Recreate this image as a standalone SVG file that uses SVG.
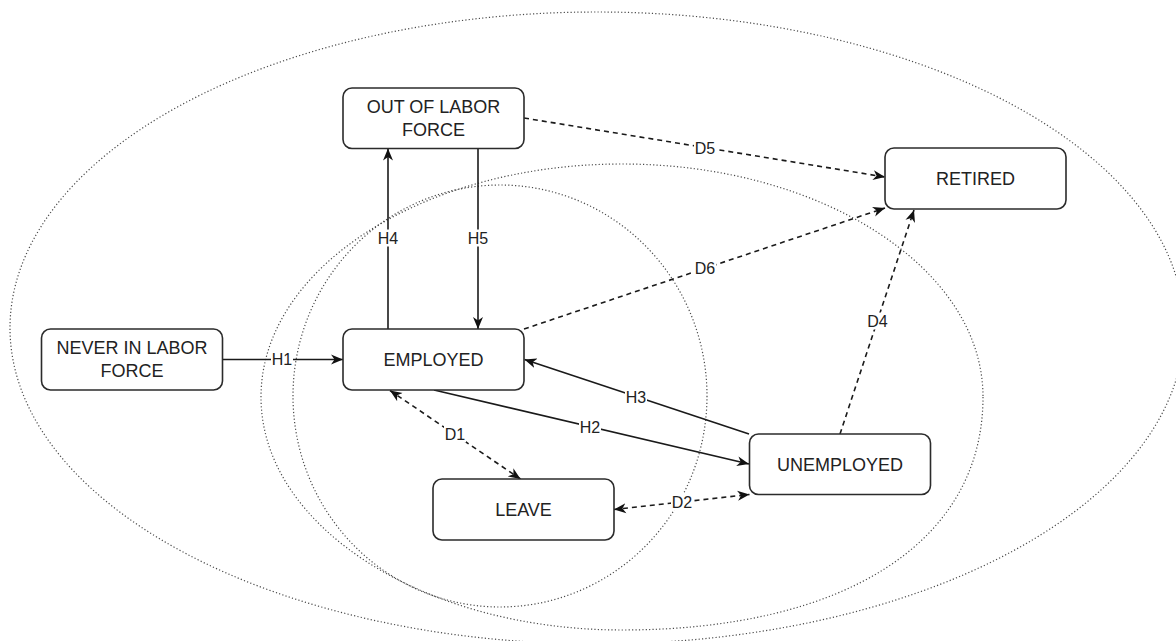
<svg xmlns="http://www.w3.org/2000/svg" width="1176" height="641" viewBox="0 0 1176 641">
<style>
.bg{fill:#ffffff}
.zone{fill:none;stroke:#4a4a4a;stroke-width:1.2;stroke-dasharray:1.2 2.2}
.box{fill:#ffffff;stroke:#2b2b2b;stroke-width:1.6}
.t{font-family:"Liberation Sans",Arial,sans-serif;font-size:18px;fill:#222;text-anchor:middle}
.e{fill:none;stroke:#1a1a1a;stroke-width:1.6}
.d{stroke-dasharray:5 4}
.lb{fill:#ffffff}
.lt{font-family:"Liberation Sans",Arial,sans-serif;font-size:16px;fill:#222;text-anchor:middle}
</style>
<defs>
<marker id="arr" viewBox="0 0 13 11" refX="12" refY="5.5" markerWidth="13" markerHeight="11" markerUnits="userSpaceOnUse" orient="auto-start-reverse">
<path d="M0,0.5 L12,5.5 L0,10.5 L3.5,5.5 Z" fill="#111" stroke="none"/>
</marker>
</defs>
<rect class="bg" x="0" y="0" width="1176" height="641"/>
<g id="zones">
<ellipse class="zone" cx="597" cy="328" rx="587" ry="316"/>
<path class="zone" d="M983,397 C983,541.5 845.8,630 622,630 C422.6,630 261,525.7 261,397 C261,268.3 422.6,164 622,164 C821.4,164 983,268.3 983,397 Z"/>
<ellipse class="zone" cx="500" cy="396" rx="207" ry="211"/>
</g>
<g id="connectors">
<line class="e" x1="223" y1="359.5" x2="343" y2="359.5" marker-end="url(#arr)"/>
<line class="e" x1="388" y1="329" x2="388" y2="148.5" marker-end="url(#arr)"/>
<line class="e" x1="478" y1="148.5" x2="478" y2="329" marker-end="url(#arr)"/>
<line class="e d" x1="524" y1="118" x2="885" y2="177" marker-end="url(#arr)"/>
<line class="e d" x1="524" y1="329" x2="885" y2="208" marker-end="url(#arr)"/>
<line class="e d" x1="840" y1="434" x2="914" y2="210" marker-end="url(#arr)"/>
<line class="e" x1="749" y1="434" x2="524.5" y2="359.5" marker-end="url(#arr)"/>
<line class="e" x1="434" y1="390" x2="749" y2="464" marker-end="url(#arr)"/>
<line class="e d" x1="390" y1="390.5" x2="520.5" y2="479" marker-start="url(#arr)" marker-end="url(#arr)"/>
<line class="e d" x1="614" y1="509.5" x2="749.5" y2="494.5" marker-start="url(#arr)" marker-end="url(#arr)"/>
<g id="labels">
<rect class="lb" x="271" y="351" width="22" height="17"/><text class="lt" x="282" y="365.2">H1</text>
<rect class="lb" x="377" y="229.5" width="22" height="17"/><text class="lt" x="388" y="243.7">H4</text>
<rect class="lb" x="467" y="229.5" width="22" height="17"/><text class="lt" x="478" y="243.7">H5</text>
<rect class="lb" x="694" y="139.5" width="22" height="17"/><text class="lt" x="705" y="153.7">D5</text>
<rect class="lb" x="694" y="259.5" width="22" height="17"/><text class="lt" x="705" y="273.7">D6</text>
<rect class="lb" x="866.5" y="312.5" width="22" height="17"/><text class="lt" x="877.5" y="326.7">D4</text>
<rect class="lb" x="625" y="388.5" width="22" height="17"/><text class="lt" x="636" y="402.7">H3</text>
<rect class="lb" x="579" y="418.5" width="22" height="17"/><text class="lt" x="590" y="432.7">H2</text>
<rect class="lb" x="444" y="425.5" width="22" height="17"/><text class="lt" x="455" y="439.7">D1</text>
<rect class="lb" x="671" y="493.5" width="22" height="17"/><text class="lt" x="682" y="507.7">D2</text>
</g>
</g>
<g id="node-never">
<rect class="box" x="41.5" y="329" width="181" height="61" rx="9"/>
<text class="t" x="132" y="354">NEVER IN LABOR</text>
<text class="t" x="132" y="376.5">FORCE</text>
</g>
<g id="node-out">
<rect class="box" x="343" y="88" width="181" height="60.5" rx="9"/>
<text class="t" x="433.5" y="113">OUT OF LABOR</text>
<text class="t" x="433.5" y="135.5">FORCE</text>
</g>
<g id="node-employed">
<rect class="box" x="343" y="329" width="181" height="61" rx="9"/>
<text class="t" x="433.5" y="366">EMPLOYED</text>
</g>
<g id="node-leave">
<rect class="box" x="433" y="479" width="181" height="61" rx="9"/>
<text class="t" x="523.5" y="516">LEAVE</text>
</g>
<g id="node-unemployed">
<rect class="box" x="749.5" y="434" width="181" height="60.5" rx="9"/>
<text class="t" x="840" y="470.5">UNEMPLOYED</text>
</g>
<g id="node-retired">
<rect class="box" x="885" y="148" width="181" height="61" rx="9"/>
<text class="t" x="975.5" y="185">RETIRED</text>
</g>
</svg>
